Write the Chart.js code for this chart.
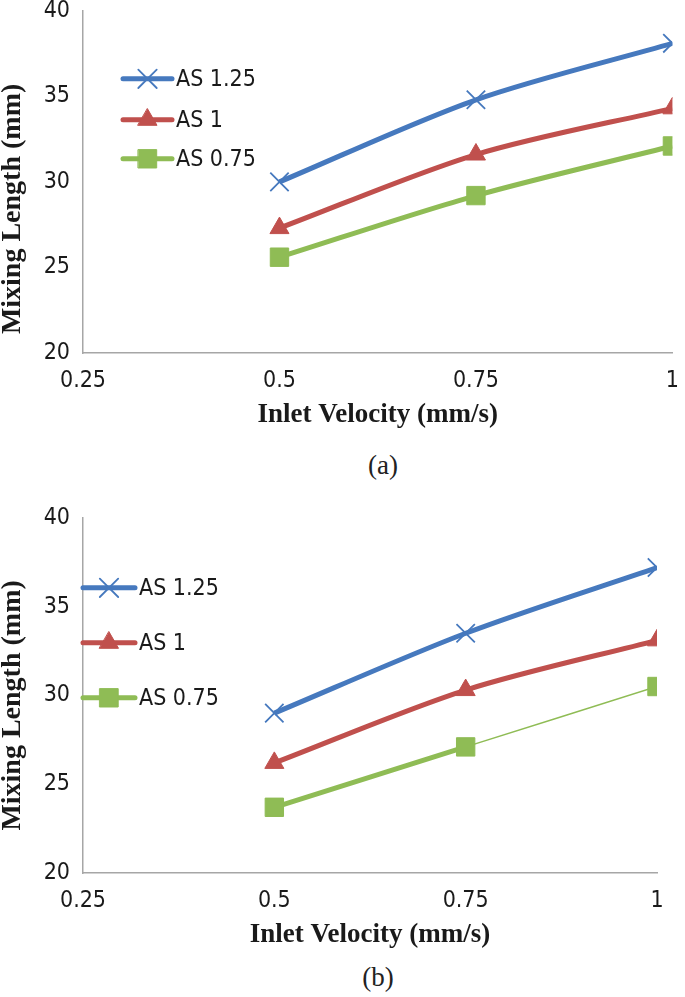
<!DOCTYPE html>
<html>
<head>
<meta charset="utf-8">
<script src="https://cdn.jsdelivr.net/npm/chart.js@4.4.1/dist/chart.umd.min.js"></script>
<style>
  html, body { margin: 0; padding: 0; background: #fff; }
  body { width: 685px; height: 997px; position: relative; overflow: hidden; }
  .box { position: absolute; left: 0; }
  .caption { position: absolute; width: 100px; text-align: center; font-family: 'Liberation Serif', 'DejaVu Serif', serif; font-size: 27px; color: #222; line-height: 30px; }
</style>
</head>
<body>
<div class="box" style="top:-16px;width:693px;height:447px;"><canvas id="chartA"></canvas></div>
<div class="caption" style="left:333px;top:450px;">(a)</div>
<div class="box" style="top:491px;width:685px;height:460px;"><canvas id="chartB"></canvas></div>
<div class="caption" style="left:328px;top:962px;">(b)</div>
<script>
// inlet velocity (mm/s)
const velocities = [0.5, 0.75, 1];
const xTicks = [0.25, 0.5, 0.75, 1];
const yTicks = [20, 25, 30, 35, 40];
const seriesNames = ['AS 1.25', 'AS 1', 'AS 0.75'];

// (a) mixing length (mm)
const a_as125 = [30.0, 34.8, 38.1];
const a_as1   = [27.3, 31.6, 34.3];
const a_as075 = [25.6, 29.2, 32.1];

// (b) mixing length (mm)
const b_as125 = [29.0, 33.5, 37.2];
const b_as1   = [26.2, 30.3, 33.1];
const b_as075 = [23.7, 27.1, 30.5];

const colors = ['#4679BE', '#C0504D', '#8FBC55'];
const narrow = "'DejaVu Sans Condensed', 'Liberation Sans', sans-serif";
const serif = "'Liberation Serif', 'DejaVu Serif', serif";

// draws the legend inside the plot, like the Excel original
const insideLegend = {
    id: 'insideLegend',
    afterDatasetsDraw(chart, args, opts) {
        const ctx = chart.ctx;
        const area = chart.chartArea;
        chart.data.datasets.forEach((ds, i) => {
            const y = area.top + opts.rows[i];
            const x0 = area.left + opts.x0;
            const x1 = area.left + opts.x1;
            ctx.save();
            ctx.strokeStyle = ds.borderColor;
            ctx.lineWidth = 5;
            ctx.lineCap = 'round';
            ctx.beginPath();
            ctx.moveTo(x0, y);
            ctx.lineTo(x1, y);
            ctx.stroke();
            ctx.fillStyle = ds.pointBackgroundColor;
            ctx.strokeStyle = ds.pointBorderColor;
            ctx.lineWidth = ds.pointBorderWidth;
            Chart.helpers.drawPoint(ctx, {
                pointStyle: ds.pointStyle,
                radius: ds.pointRadius,
                borderWidth: ds.pointBorderWidth,
                rotation: 0
            }, (x0 + x1) / 2, y);
            ctx.fillStyle = '#1a1a1a';
            ctx.font = '23px ' + narrow;
            ctx.textAlign = 'left';
            ctx.textBaseline = 'middle';
            ctx.fillText(ds.label, x1 + 4, y + 1);
            ctx.restore();
        });
    }
};

// y axis title, shifted along the axis the way Excel placed it
const yTitle = {
    id: 'yTitle',
    afterDraw(chart, args, opts) {
        const ctx = chart.ctx;
        const area = chart.chartArea;
        ctx.save();
        ctx.translate(13, (area.top + area.bottom) / 2 + opts.shift);
        ctx.rotate(-Math.PI / 2);
        ctx.fillStyle = '#1a1a1a';
        ctx.font = 'bold 28px ' + serif;
        ctx.textAlign = 'center';
        ctx.textBaseline = 'middle';
        ctx.fillText(opts.text, 0, 0);
        ctx.restore();
    }
};

function makeDatasets(values, thinGreenEnd) {
    const styles = [
        { pointStyle: 'crossRot', pointRadius: 13, pointBorderWidth: 1.8 },
        { pointStyle: 'triangle', pointRadius: 11, pointBorderWidth: 1 },
        { pointStyle: 'rect', pointRadius: 13, pointBorderWidth: 1 }
    ];
    return values.map((vals, i) => {
        const ds = {
            label: seriesNames[i],
            data: velocities.map((v, j) => ({ x: v, y: vals[j] })),
            borderColor: colors[i],
            backgroundColor: colors[i],
            pointBackgroundColor: colors[i],
            pointBorderColor: colors[i],
            borderWidth: 5,
            tension: 0.3,
            ...styles[i]
        };
        if (thinGreenEnd && i === 2) {
            ds.segment = { borderWidth: c => c.p0DataIndex === 1 ? 1.5 : undefined };
        }
        return ds;
    });
}

function makeChart(id, datasets, rightPad, legendOpts, titleShift) {
    new Chart(document.getElementById(id), {
        type: 'line',
        data: { datasets: datasets },
        plugins: [insideLegend, yTitle],
        options: {
            responsive: true,
            maintainAspectRatio: false,
            animation: false,
            layout: { padding: { top: 16, right: rightPad, bottom: 0, left: 0 } },
            plugins: {
                legend: { display: false },
                tooltip: { enabled: false },
                insideLegend: legendOpts,
                yTitle: { text: 'Mixing Length (mm)', shift: titleShift }
            },
            scales: {
                x: {
                    type: 'linear',
                    min: xTicks[0],
                    max: xTicks[xTicks.length - 1],
                    afterBuildTicks: s => { s.ticks = xTicks.map(v => ({ value: v })); },
                    afterFit: s => { s.height = 78; },
                    grid: { display: false, drawTicks: false },
                    border: { display: true, color: '#A6A6A6', width: 1.5 },
                    ticks: {
                        padding: 14,
                        color: '#1a1a1a',
                        font: { family: narrow, size: 23 },
                        callback: v => String(v),
                        maxRotation: 0
                    },
                    title: {
                        display: true,
                        text: 'Inlet Velocity (mm/s)',
                        color: '#1a1a1a',
                        font: { family: serif, size: 27, weight: 'bold' },
                        padding: { top: 0, bottom: 0 }
                    }
                },
                y: {
                    min: yTicks[0],
                    max: yTicks[yTicks.length - 1],
                    afterBuildTicks: s => { s.ticks = yTicks.map(v => ({ value: v })); },
                    afterFit: s => { s.width = 83; },
                    grid: { display: false, drawTicks: false },
                    border: { display: true, color: '#A6A6A6', width: 1.5 },
                    ticks: {
                        padding: 13,
                        color: '#1a1a1a',
                        font: { family: narrow, size: 23 }
                    }
                }
            }
        }
    });
}

makeChart('chartA', makeDatasets([a_as125, a_as1, a_as075], false), 10,
    { x0: 40, x1: 89, rows: [68, 109, 148] }, 27);
makeChart('chartB', makeDatasets([b_as125, b_as1, b_as075], true), 28,
    { x0: 0, x1: 52, rows: [70, 125, 180] }, 10);
</script>
</body>
</html>
